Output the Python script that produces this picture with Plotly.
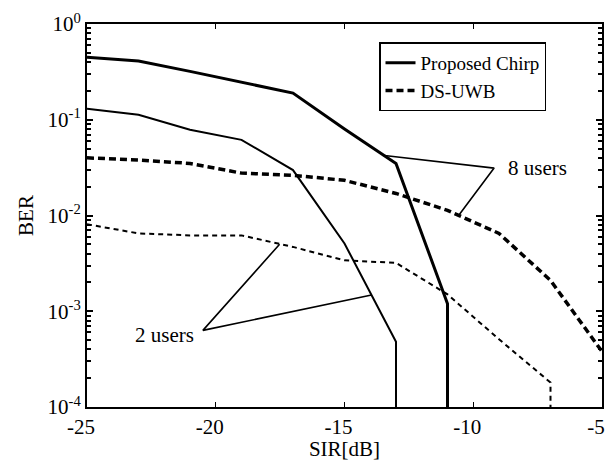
import plotly.graph_objects as go

# SIR grid in dB
sir = [-25, -23, -21, -19, -17, -15, -13, -11, -9, -7, -5]

# Proposed chirp system, BER versus SIR
chirp_8_x = [-25, -23, -21, -19, -17, -15, -13, -11, -11]
chirp_8_ber = [0.45, 0.41, 0.32, 0.245, 0.19, 0.08, 0.035, 0.0012, 1e-5]

chirp_2_x = [-25, -23, -21, -19, -17, -15, -13, -13]
chirp_2_ber = [0.13, 0.113, 0.0785, 0.0617, 0.0298, 0.0051, 0.00048, 1e-5]

# DS-UWB reference system
ds_8_x = sir
ds_8_ber = [0.040, 0.038, 0.035, 0.0277, 0.0263, 0.0233, 0.017, 0.0113, 0.0065, 0.0021, 0.00038]

ds_2_x = [-25, -23, -21, -19, -17, -15, -13, -11, -9, -7, -7]
ds_2_ber = [0.0081, 0.0065, 0.0062, 0.0062, 0.0047, 0.0034, 0.0032, 0.0015, 0.00051, 0.00018, 1e-5]

# Callout leaders: curve point, vertex, curve point
lead_8_x = [-13.53, -9.19, -10.54]
lead_8_ber = [10 ** -1.37, 10 ** -1.505, 10 ** -1.99]
lead_2_x = [-17.52, -20.5, -13.95]
lead_2_ber = [10 ** -2.30, 10 ** -3.20, 10 ** -2.83]

y_ticks = [1, 0.1, 0.01, 0.001, 0.0001]
y_tick_text = ["10<sup>0</sup>", "10<sup>-1</sup>", "10<sup>-2</sup>", "10<sup>-3</sup>", "10<sup>-4</sup>"]
x_ticks = [-25, -20, -15, -10, -5]
x_tick_text = ["-25", "-20", "-15", "-10", "-5"]

FONT = "Liberation Serif"

fig = go.Figure()

fig.add_trace(go.Scatter(x=chirp_8_x, y=chirp_8_ber, mode="lines", name="Proposed Chirp",
                         line=dict(color="black", width=3), showlegend=True))
fig.add_trace(go.Scatter(x=chirp_2_x, y=chirp_2_ber, mode="lines", showlegend=False,
                         line=dict(color="black", width=2)))
fig.add_trace(go.Scatter(x=ds_8_x, y=ds_8_ber, mode="lines", name="DS-UWB",
                         line=dict(color="black", width=3.5, dash="7px,4px"), showlegend=True))
fig.add_trace(go.Scatter(x=ds_2_x, y=ds_2_ber, mode="lines", showlegend=False,
                         line=dict(color="black", width=2, dash="5px,4px")))

fig.add_trace(go.Scatter(x=lead_8_x, y=lead_8_ber, mode="lines", showlegend=False,
                         line=dict(color="black", width=1.6), hoverinfo="skip"))
fig.add_trace(go.Scatter(x=lead_2_x, y=lead_2_ber, mode="lines", showlegend=False,
                         line=dict(color="black", width=1.6), hoverinfo="skip"))

fig.add_annotation(x=-8.72, y=-1.50, text="8 users", showarrow=False, xanchor="left",
                   yanchor="middle", font=dict(family=FONT, size=21, color="black"))
fig.add_annotation(x=-20.75, y=-3.25, text="2 users", showarrow=False, xanchor="right",
                   yanchor="middle", font=dict(family=FONT, size=21, color="black"))

fig.update_layout(
    width=606, height=461,
    margin=dict(l=87, r=4, t=24, b=54),
    paper_bgcolor="white", plot_bgcolor="white",
    font=dict(family=FONT, size=21, color="black"),
    legend=dict(x=0.567, y=0.952, xanchor="left", yanchor="top",
                bordercolor="black", borderwidth=1.5, bgcolor="white",
                font=dict(family=FONT, size=19, color="black"),
                tracegroupgap=0, itemwidth=30),
)

fig.update_xaxes(
    range=[-25, -5], tickvals=x_ticks, ticktext=x_tick_text,
    ticklabeloverflow="allow", automargin=False, ticklabelshift=-6,
    showgrid=False, zeroline=False, showline=True, linecolor="black", linewidth=2,
    mirror="ticks", ticks="inside", ticklen=5, tickcolor="black",
    title=dict(text="SIR[dB]", standoff=2, font=dict(family=FONT, size=21)),
)
fig.update_yaxes(
    type="log", range=[-4, 0], tickvals=y_ticks, ticktext=y_tick_text,
    ticklabeloverflow="allow", automargin=False,
    showgrid=False, zeroline=False, showline=True, linecolor="black", linewidth=2,
    mirror="ticks", ticks="inside", ticklen=6, tickcolor="black", tickwidth=1.5,
    minor=dict(dtick="D1", ticks="inside", ticklen=4, tickwidth=1.5,
               tickcolor="black", showgrid=False),
    title=dict(text="BER", standoff=8, font=dict(family=FONT, size=21)),
)

fig.write_html("out.html")
